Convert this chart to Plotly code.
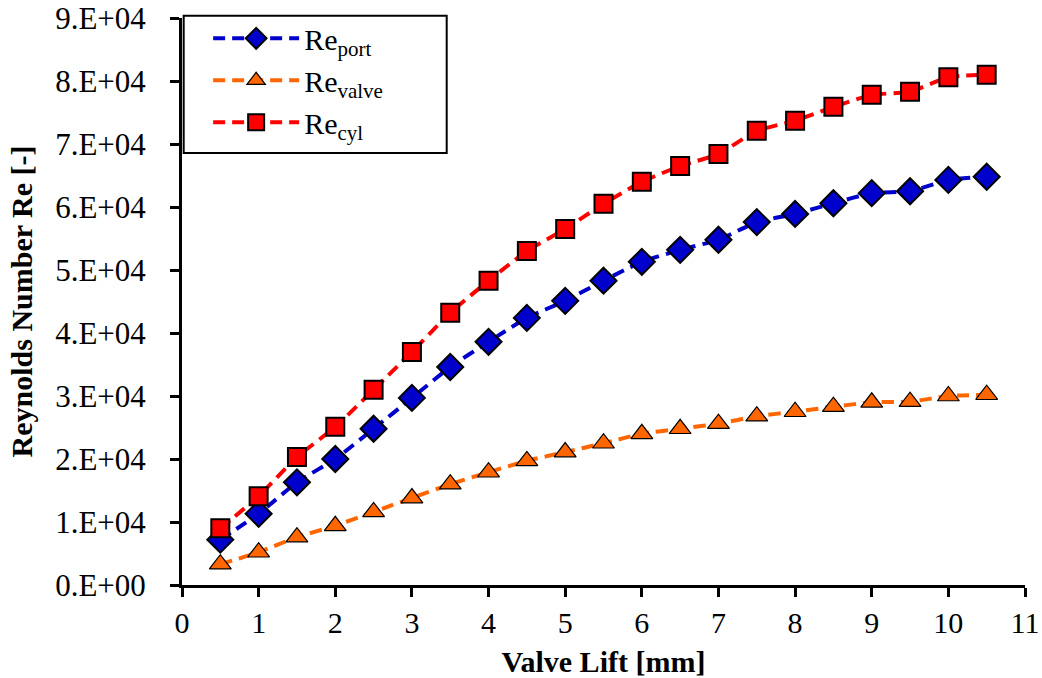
import plotly.graph_objects as go

# Valve lift [mm]
lift = [0.5, 1, 1.5, 2, 2.5, 3, 3.5, 4, 4.5, 5, 5.5, 6, 6.5, 7, 7.5, 8, 8.5, 9, 9.5, 10, 10.5]

# Reynolds numbers for port, valve and cylinder
re_port = [7200, 11300, 16300, 20000, 24800, 29700, 34600, 38600, 42400, 45100, 48300,
           51300, 53200, 54800, 57600, 58900, 60600, 62200, 62500, 64300, 64800]
re_valve = [3300, 5200, 7600, 9400, 11600, 13800, 16000, 17900, 19700, 21100, 22500,
            24000, 24800, 25600, 26800, 27500, 28300, 29000, 29100, 30000, 30200]
re_cyl = [9000, 14100, 20300, 25100, 31000, 37000, 43200, 48300, 53000, 56500, 60500,
          64000, 66500, 68400, 72100, 73700, 75900, 77800, 78300, 80600, 81000]

y_ticks = [i * 10000 for i in range(10)]
y_tick_text = ["%d.E+%s" % (i, "00" if i == 0 else "04") for i in range(10)]
x_ticks = list(range(12))

serif = "Liberation Serif, Times New Roman, serif"

fig = go.Figure()

series = [
    ("Re<sub>port</sub>", re_port, "#0000CC", "diamond", 20, 2),
    ("Re<sub>valve</sub>", re_valve, "#FF6600", "triangle-up", 19, 1.2),
    ("Re<sub>cyl</sub>", re_cyl, "#FF0000", "square", 18, 2),
]
for name, vals, color, symbol, size, lw in series:
    fig.add_trace(go.Scatter(
        x=lift, y=vals, name=name, mode="lines+markers",
        line=dict(color=color, width=4, dash="12px,7px", shape="spline", smoothing=0.5),
        marker=dict(symbol=symbol, size=size, color=color, line=dict(color="black", width=lw)),
    ))

# framed box behind the legend entries
fig.add_shape(
    type="rect", xref="paper", yref="paper",
    x0=0.002, x1=0.314, y0=0.762, y1=1.004,
    line=dict(color="black", width=2), fillcolor="white", layer="above",
)

fig.update_layout(
    width=1042, height=678,
    margin=dict(l=182, r=17, t=18, b=93),
    paper_bgcolor="white", plot_bgcolor="white",
    font=dict(family=serif, size=30, color="black"),
    showlegend=True,
    legend=dict(
        x=0.031, y=1.01, xanchor="left", yanchor="top",
        bgcolor="rgba(0,0,0,0)", borderwidth=0,
        font=dict(family=serif, size=30, color="black"),
        itemwidth=86,
    ),
    xaxis=dict(
        range=[0, 11], tickvals=x_ticks, ticktext=[str(v) for v in x_ticks],
        showline=True, linecolor="black", linewidth=3,
        ticks="outside", ticklen=9, tickwidth=3, tickcolor="black",
        showgrid=False, zeroline=False, automargin=False,
        tickfont=dict(family=serif, size=30),
        title=dict(text="<b>Valve Lift [mm]</b>", font=dict(family=serif, size=30), standoff=14),
    ),
    yaxis=dict(
        range=[0, 90000], tickvals=y_ticks, ticktext=y_tick_text,
        showline=True, linecolor="black", linewidth=3,
        ticks="outside", ticklen=9, tickwidth=3, tickcolor="black",
        showgrid=False, zeroline=False, automargin=False,
        tickfont=dict(family=serif, size=31), ticklabelstandoff=18,
        title=dict(text="<b>Reynolds Number Re [-]</b>", font=dict(family=serif, size=30), standoff=14),
    ),
)

fig.write_html("out.html")
